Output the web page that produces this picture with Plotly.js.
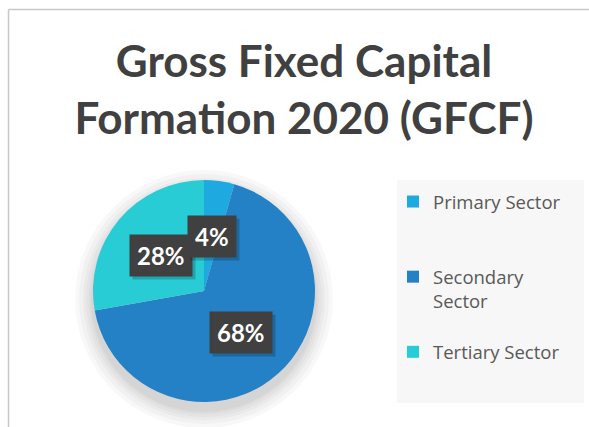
<!DOCTYPE html>
<html>
<head>
<meta charset="utf-8">
<script src="https://cdn.plot.ly/plotly-3.0.1.min.js"></script>
<style>html,body{margin:0;padding:0;background:#fff;}#chart{width:589px;height:427px;}</style>
</head>
<body>
<div id="chart"></div>
<script>
// ---- data ----
const categories = ['Primary Sector', 'Secondary Sector', 'Tertiary Sector'];
const legendLabels = ['Primary Sector<br> <br> ', 'Secondary<br>Sector<br> ', 'Tertiary Sector'];
const values = [4.4, 67.8, 27.8];
const colors = ['#1FA9E1', '#2581C6', '#28CCD5'];

// ---- layout helpers ----
const W = 589, H = 427;
const px = x => x / W;
const py = y => 1 - y / H;
const cx = 204, cy = 291, R = 111;

const total = values.reduce((a, b) => a + b, 0);

// label annotations placed at the middle angle of each slice (clockwise from 12 o'clock)
const annotations = [];
const order = [2, 1, 0];
const starts = [];
let acc = 0;
values.forEach(v => { starts.push(acc); acc += v; });
order.forEach(i => {
  const mid = (starts[i] + values[i] / 2) / total * 2 * Math.PI;
  const r = 0.5 * R;
  const ax = cx + r * Math.sin(mid);
  const ay = cy - r * Math.cos(mid);
  const txt = Math.round(values[i] / total * 100) + '%';
  const base = {x: px(ax), y: py(ay), xref: 'paper', yref: 'paper', showarrow: false,
    xanchor: 'center', yanchor: 'middle', text: txt, borderpad: 7, height: 27};
  annotations.push(Object.assign({}, base, {
    xshift: 3, yshift: -3,
    font: {family: 'Lato, Open Sans, sans-serif', size: 24, color: 'rgba(0,0,0,0)', weight: 700},
    bgcolor: 'rgba(0,0,0,0.2)'
  }));
  annotations.push(Object.assign({}, base, {
    font: {family: 'Lato, Open Sans, sans-serif', size: 24, color: '#ffffff', weight: 700},
    bgcolor: '#404040'
  }));
});

const shapes = [
  // chart frame
  {type: 'line', xref: 'paper', yref: 'paper', x0: px(8.5), x1: 1, y0: py(9.5), y1: py(9.5), line: {color: '#c8c8c8', width: 1.5}},
  {type: 'line', xref: 'paper', yref: 'paper', x0: px(8.5), x1: px(8.5), y0: py(9.5), y1: 0, line: {color: '#c8c8c8', width: 1.5}},
  // legend background
  {type: 'rect', xref: 'paper', yref: 'paper', x0: px(397), x1: px(584), y0: py(180), y1: py(403), fillcolor: '#f7f7f7', line: {width: 0}, layer: 'below'}
];
// soft pie shadow
[18, 14, 10, 7, 4, 2].forEach(d => {
  shapes.push({type: 'circle', xref: 'paper', yref: 'paper', layer: 'below',
    x0: px(cx - R - d), x1: px(cx + R + d), y0: py(cy + 8 + R + d), y1: py(cy + 8 - R - d),
    fillcolor: 'rgba(0,0,0,0.028)', line: {width: 0}});
});

const trace = {
  type: 'pie',
  labels: legendLabels,
  values: values,
  marker: {colors: colors, line: {color: '#ffffff', width: 0}},
  sort: false,
  direction: 'clockwise',
  rotation: 0,
  textinfo: 'none',
  hoverinfo: 'text',
  hovertext: categories,
  domain: {x: [px(cx - R), px(cx + R)], y: [py(cy + R), py(cy - R)]}
};

const layout = {
  width: W, height: H,
  margin: {l: 0, r: 0, t: 0, b: 0},
  paper_bgcolor: '#ffffff',
  title: {
    text: 'Gross Fixed Capital<br>Formation 2020 (GFCF)',
    font: {family: 'Lato, Open Sans, sans-serif', size: 44, color: '#404040', weight: 700},
    x: px(304), xanchor: 'center', xref: 'paper',
    y: py(77), yanchor: 'top', yref: 'container'
  },
  showlegend: true,
  legend: {
    x: px(393), y: py(183), xanchor: 'left', yanchor: 'top',
    bgcolor: 'rgba(0,0,0,0)', valign: 'top',
    font: {family: 'Open Sans, Lato, sans-serif', size: 18.5, color: '#595959'}
  },
  annotations: annotations,
  shapes: shapes
};

Plotly.newPlot('chart', [trace], layout, {displayModeBar: false, staticPlot: true});
</script>
</body>
</html>
